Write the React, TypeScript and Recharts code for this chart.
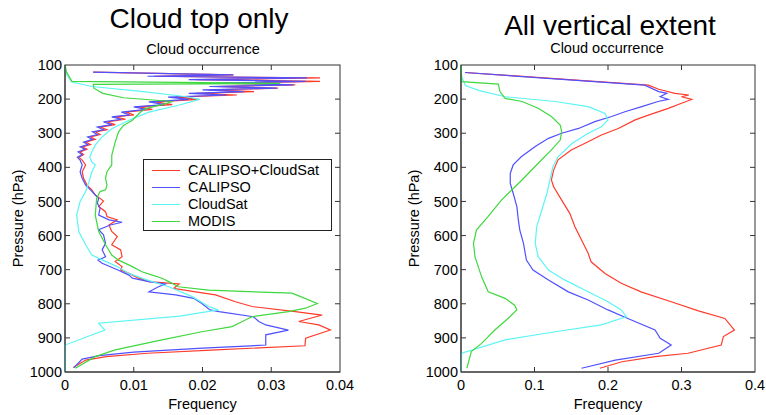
import { ScatterChart, Scatter, XAxis, YAxis, Label } from "recharts";

// pressure levels (hPa) on the y axis, frequency on the x axis
const pressureTicks = [100, 200, 300, 400, 500, 600, 700, 800, 900, 1000];
const topFreqTicks = [0, 0.01, 0.02, 0.03, 0.04];
const allFreqTicks = [0, 0.1, 0.2, 0.3, 0.4];

const seriesNames = ["CALIPSO+CloudSat", "CALIPSO", "CloudSat", "MODIS"];
const seriesColors = ["#ff3b2b", "#5050ff", "#5cf5f5", "#3fd83f"];

const topCombined: [number, number][] = [
  [121, 0.0041], [129, 0.0245], [133, 0.013], [138, 0.0371], [143, 0.019], [148, 0.0371],
  [153, 0.023], [158, 0.0335], [163, 0.022], [168, 0.031], [173, 0.021], [178, 0.0275],
  [183, 0.019], [188, 0.025], [194, 0.0161], [201, 0.0195], [208, 0.0131], [216, 0.0156],
  [223, 0.0107], [230, 0.0127], [238, 0.0088], [246, 0.01], [252, 0.0073], [259, 0.0088],
  [267, 0.0061], [275, 0.0073], [282, 0.0051], [290, 0.0061], [296, 0.0044], [304, 0.0051],
  [311, 0.0037], [318, 0.0044], [326, 0.003], [333, 0.0037], [340, 0.0025], [347, 0.0032],
  [355, 0.0022], [363, 0.0027], [370, 0.002], [379, 0.0025], [393, 0.003], [413, 0.0025],
  [432, 0.0027], [452, 0.0032], [466, 0.0039], [481, 0.0044], [491, 0.0051], [499, 0.0056],
  [515, 0.0049], [530, 0.0059], [544, 0.0061], [554, 0.0076], [569, 0.0064], [588, 0.0068],
  [603, 0.0076], [627, 0.0068], [642, 0.0081], [662, 0.0083], [676, 0.0073], [691, 0.0083],
  [701, 0.0081], [711, 0.0093], [725, 0.0107], [735, 0.0122], [742, 0.0166], [750, 0.0161],
  [755, 0.0158], [765, 0.019], [774, 0.0219], [794, 0.0248], [808, 0.0272], [823, 0.0335],
  [833, 0.0374], [852, 0.034], [862, 0.0369], [877, 0.0386], [901, 0.035], [923, 0.0349],
  [935, 0.022], [945, 0.012], [955, 0.006], [965, 0.003], [987, 0.0012],
];
const topCalipso: [number, number][] = [
  [121, 0.0041], [129, 0.0245], [133, 0.012], [138, 0.0352], [143, 0.018], [148, 0.035],
  [153, 0.022], [158, 0.0332], [163, 0.021], [168, 0.0308], [173, 0.02], [178, 0.026],
  [183, 0.018], [188, 0.0235], [194, 0.015], [201, 0.018], [208, 0.0122], [216, 0.0145],
  [223, 0.01], [230, 0.0118], [238, 0.0082], [246, 0.0094], [252, 0.0068], [259, 0.0082],
  [267, 0.0056], [275, 0.0068], [282, 0.0047], [290, 0.0056], [296, 0.004], [304, 0.0047],
  [311, 0.0033], [318, 0.004], [326, 0.0027], [333, 0.0033], [340, 0.0022], [347, 0.0029],
  [355, 0.0019], [363, 0.0025], [370, 0.0018], [379, 0.0022], [393, 0.0025], [413, 0.0022],
  [432, 0.0025], [452, 0.003], [466, 0.0037], [481, 0.0044], [491, 0.0049], [505, 0.0047],
  [520, 0.0051], [540, 0.0049], [554, 0.0064], [561, 0.0083], [569, 0.0066], [583, 0.0049],
  [598, 0.0056], [623, 0.0059], [642, 0.0054], [662, 0.0059], [672, 0.0048], [681, 0.0054],
  [701, 0.0077], [716, 0.0093], [725, 0.0098], [735, 0.0122], [742, 0.0146], [750, 0.0136],
  [765, 0.0122], [774, 0.0161], [784, 0.0187], [799, 0.0199], [818, 0.0211], [823, 0.0224],
  [838, 0.0274], [852, 0.0282], [862, 0.0292], [877, 0.0325], [891, 0.0292], [921, 0.0292],
  [930, 0.02], [942, 0.01], [952, 0.005], [962, 0.0025], [987, 0.0013],
];
const topCloudsat: [number, number][] = [
  [100, 0], [130, 0.0003], [150, 0.001], [163, 0.0039], [178, 0.0114], [193, 0.0177],
  [201, 0.0196], [218, 0.0165], [238, 0.0122], [262, 0.0093], [287, 0.0068], [311, 0.0054],
  [335, 0.0044], [355, 0.0039], [370, 0.0036], [384, 0.0039], [393, 0.0044], [413, 0.0039],
  [442, 0.0035], [471, 0.003], [500, 0.0022], [540, 0.0017], [588, 0.002], [627, 0.003],
  [657, 0.0039], [672, 0.0055], [691, 0.0076], [711, 0.0093], [730, 0.0119], [750, 0.0151],
  [779, 0.0185], [808, 0.0209], [818, 0.0223], [836, 0.0167], [857, 0.0049], [877, 0.0058],
  [921, 0], [1000, 0],
];
const topModis: [number, number][] = [
  [100, 0], [120, 0.0002], [148, 0.001], [154, 0.0313], [157, 0.0041], [168, 0.0042],
  [183, 0.0055], [196, 0.0085], [207, 0.0157], [216, 0.0141], [228, 0.0117], [238, 0.011],
  [262, 0.0098], [277, 0.0085], [296, 0.0078], [326, 0.0073], [365, 0.0068], [393, 0.0068],
  [413, 0.0061], [432, 0.0059], [452, 0.0061], [466, 0.0059], [471, 0.0051], [491, 0.0046],
  [540, 0.0044], [588, 0.0049], [627, 0.0059], [657, 0.0068], [672, 0.0078], [691, 0.0098],
  [706, 0.0112], [716, 0.0127], [725, 0.0141], [735, 0.0151], [750, 0.0165], [760, 0.0209],
  [769, 0.033], [777, 0.034], [799, 0.0367], [813, 0.035], [823, 0.0325], [838, 0.0272],
  [852, 0.0258], [867, 0.0243], [882, 0.0199], [906, 0.0141], [935, 0.0073], [955, 0.0044],
  [989, 0.0015],
];

const allCombined: [number, number][] = [
  [122, 0.0054], [159, 0.255], [171, 0.269], [183, 0.291], [188, 0.31], [193, 0.3],
  [201, 0.314], [212, 0.3], [227, 0.282], [247, 0.255], [261, 0.237], [286, 0.214],
  [305, 0.191], [325, 0.173], [349, 0.15], [378, 0.132], [408, 0.126], [437, 0.123],
  [457, 0.126], [496, 0.137], [535, 0.148], [574, 0.155], [613, 0.164], [652, 0.173],
  [677, 0.177], [711, 0.196], [740, 0.218], [765, 0.245], [794, 0.286], [821, 0.323],
  [843, 0.359], [877, 0.372], [896, 0.357], [921, 0.354], [945, 0.309], [955, 0.264],
  [970, 0.219], [989, 0.189],
];
const allCalipso: [number, number][] = [
  [122, 0.0054], [159, 0.25], [178, 0.269], [183, 0.28], [193, 0.271], [201, 0.282],
  [207, 0.268], [222, 0.246], [237, 0.223], [251, 0.205], [266, 0.182], [286, 0.16],
  [300, 0.137], [315, 0.119], [339, 0.101], [369, 0.082], [393, 0.071], [418, 0.067],
  [447, 0.067], [476, 0.071], [515, 0.076], [554, 0.078], [584, 0.08], [623, 0.085],
  [672, 0.089], [701, 0.098], [730, 0.119], [765, 0.146], [789, 0.173], [818, 0.2],
  [843, 0.227], [877, 0.264], [901, 0.271], [921, 0.286], [945, 0.269], [965, 0.21],
  [989, 0.164],
];
const allCloudsat: [number, number][] = [
  [100, 0], [135, 0.001], [160, 0.006], [175, 0.025], [193, 0.06], [207, 0.128],
  [222, 0.173], [242, 0.196], [261, 0.2], [281, 0.191], [300, 0.173], [330, 0.151],
  [369, 0.132], [398, 0.125], [437, 0.121], [476, 0.117], [525, 0.11], [574, 0.103],
  [623, 0.101], [662, 0.105], [701, 0.119], [730, 0.141], [765, 0.173], [794, 0.2],
  [818, 0.218], [838, 0.225], [862, 0.191], [882, 0.128], [906, 0.06], [945, 0.001],
  [1000, 0],
];
const allModis: [number, number][] = [
  [100, 0], [149, 0.001], [156, 0.0508], [178, 0.053], [198, 0.06], [207, 0.083],
  [227, 0.105], [251, 0.123], [276, 0.135], [295, 0.137], [320, 0.135], [349, 0.123],
  [388, 0.105], [437, 0.083], [496, 0.055], [544, 0.037], [584, 0.021], [623, 0.017],
  [662, 0.019], [721, 0.028], [765, 0.037], [784, 0.06], [804, 0.073], [818, 0.076],
  [843, 0.064], [877, 0.046], [916, 0.028], [940, 0.014], [989, 0.008],
];

const font = "'Liberation Sans', Arial, Helvetica, sans-serif";
const axisColor = "#333";
const P_MIN = 100;
const P_MAX = 1000;
const CHART_W = 383;
const CHART_H = 415;
const M_TOP = 65;
const Y_AXIS_W = 50;
const X_AXIS_H = 40;
const M_BOTTOM = 3;
const PLOT_H = CHART_H - M_TOP - X_AXIS_H - M_BOTTOM;

const toPoints = (rows: [number, number][]) => rows.map(([p, f]) => ({ p, f }));

const noShape = () => <g />;

function Panel({
  left,
  marginLeft,
  marginRight,
  maxX,
  ticks,
  series,
}: {
  left: number;
  marginLeft: number;
  marginRight: number;
  maxX: number;
  ticks: number[];
  series: [number, number][][];
}) {
  const tickStyle = { fill: "#000", fontSize: 14.5, fontFamily: font };
  return (
    <div style={{ position: "absolute", left, top: 0 }}>
      <ScatterChart
        width={CHART_W}
        height={CHART_H}
        margin={{ top: M_TOP, right: marginRight, bottom: M_BOTTOM, left: marginLeft }}
      >
        <XAxis
          type="number"
          dataKey="f"
          domain={[0, maxX]}
          ticks={ticks}
          interval={0}
          height={X_AXIS_H}
          tickLine={false}
          tickSize={0}
          tickMargin={8}
          stroke={axisColor}
          tick={tickStyle}
          tickFormatter={(v: number) => String(v)}
        >
          <Label
            value="Frequency"
            position="insideBottom"
            offset={3}
            style={{ fill: "#000", fontSize: 14.5, fontFamily: font }}
          />
        </XAxis>
        <YAxis
          type="number"
          dataKey="p"
          domain={[P_MIN, P_MAX]}
          reversed
          ticks={pressureTicks}
          interval={0}
          width={Y_AXIS_W}
          tickLine={false}
          tickSize={0}
          tickMargin={3}
          stroke={axisColor}
          tick={tickStyle}
        >
          <Label
            value="Pressure (hPa)"
            angle={-90}
            position="insideLeft"
            offset={3}
            style={{ fill: "#000", fontSize: 14.5, fontFamily: font, textAnchor: "middle" }}
          />
        </YAxis>
        {series.map((rows, i) => (
          <Scatter
            key={seriesNames[i]}
            name={seriesNames[i]}
            data={toPoints(rows)}
            fill={seriesColors[i]}
            line={{ stroke: seriesColors[i], strokeWidth: 1.2 }}
            lineType="joint"
            shape={noShape}
            isAnimationActive={false}
          />
        ))}
      </ScatterChart>
    </div>
  );
}

// box around the plot area with inward tick marks (matlab style)
function Frame({
  left,
  marginLeft,
  marginRight,
  maxX,
  ticks,
}: {
  left: number;
  marginLeft: number;
  marginRight: number;
  maxX: number;
  ticks: number[];
}) {
  const x0 = left + marginLeft + Y_AXIS_W;
  const w = CHART_W - marginLeft - Y_AXIS_W - marginRight;
  const y0 = M_TOP;
  const sx = (v: number) => x0 + (v / maxX) * w;
  const sy = (p: number) => y0 + ((p - P_MIN) / (P_MAX - P_MIN)) * PLOT_H;
  const len = 5;
  return (
    <g stroke={axisColor} strokeWidth={1} fill="none">
      <rect x={x0} y={y0} width={w} height={PLOT_H} />
      {ticks.slice(1, -1).map((t) => (
        <g key={`x${t}`}>
          <line x1={sx(t)} x2={sx(t)} y1={y0} y2={y0 + len} />
          <line x1={sx(t)} x2={sx(t)} y1={y0 + PLOT_H} y2={y0 + PLOT_H - len} />
        </g>
      ))}
      {pressureTicks.slice(1, -1).map((p) => (
        <g key={`y${p}`}>
          <line x1={x0} x2={x0 + len} y1={sy(p)} y2={sy(p)} />
          <line x1={x0 + w} x2={x0 + w - len} y1={sy(p)} y2={sy(p)} />
        </g>
      ))}
    </g>
  );
}

function Title({
  text,
  x,
  top,
  size,
  lh,
}: {
  text: string;
  x: number;
  top: number;
  size: number;
  lh: number;
}) {
  return (
    <div
      style={{
        position: "absolute",
        left: x,
        top,
        transform: "translateX(-50%)",
        whiteSpace: "nowrap",
        fontFamily: font,
        fontSize: size,
        lineHeight: `${lh}px`,
        color: "#000",
      }}
    >
      {text}
    </div>
  );
}

const panels = [
  {
    left: 0,
    marginLeft: 15,
    marginRight: 43,
    maxX: 0.04,
    ticks: topFreqTicks,
    series: [topCombined, topCalipso, topCloudsat, topModis],
  },
  {
    left: 383,
    marginLeft: 28,
    marginRight: 11,
    maxX: 0.4,
    ticks: allFreqTicks,
    series: [allCombined, allCalipso, allCloudsat, allModis],
  },
];

export default function App() {
  return (
    <div style={{ position: "absolute", left: 0, top: 0, width: 766, height: 415 }}>
      {panels.map((p) => (
        <Panel key={p.left} {...p} />
      ))}
      <svg
        width={766}
        height={415}
        style={{ position: "absolute", left: 0, top: 0, pointerEvents: "none" }}
      >
        {panels.map((p) => (
          <Frame
            key={p.left}
            left={p.left}
            marginLeft={p.marginLeft}
            marginRight={p.marginRight}
            maxX={p.maxX}
            ticks={p.ticks}
          />
        ))}
      </svg>
      <Title text="Cloud top only" x={199} top={7.3} size={28} lh={24} />
      <Title text="Cloud occurrence" x={203} top={42.5} size={14.5} lh={13} />
      <Title text="All vertical extent" x={610} top={14.3} size={28} lh={24} />
      <Title text="Cloud occurrence" x={607} top={42} size={14.5} lh={13} />
      <div
        style={{
          position: "absolute",
          left: 143,
          top: 159,
          width: 189,
          height: 72,
          boxSizing: "border-box",
          border: "1px solid #222",
          background: "#fff",
          paddingTop: 2,
          fontFamily: font,
          fontSize: 14.5,
        }}
      >
        {seriesNames.map((name, i) => (
          <div key={name} style={{ position: "relative", height: 17 }}>
            <div
              style={{
                position: "absolute",
                left: 8,
                top: 8,
                width: 28,
                height: 0,
                borderTop: `1.5px solid ${seriesColors[i]}`,
              }}
            />
            <div style={{ position: "absolute", left: 44, top: 0, lineHeight: "17px" }}>{name}</div>
          </div>
        ))}
      </div>
    </div>
  );
}
